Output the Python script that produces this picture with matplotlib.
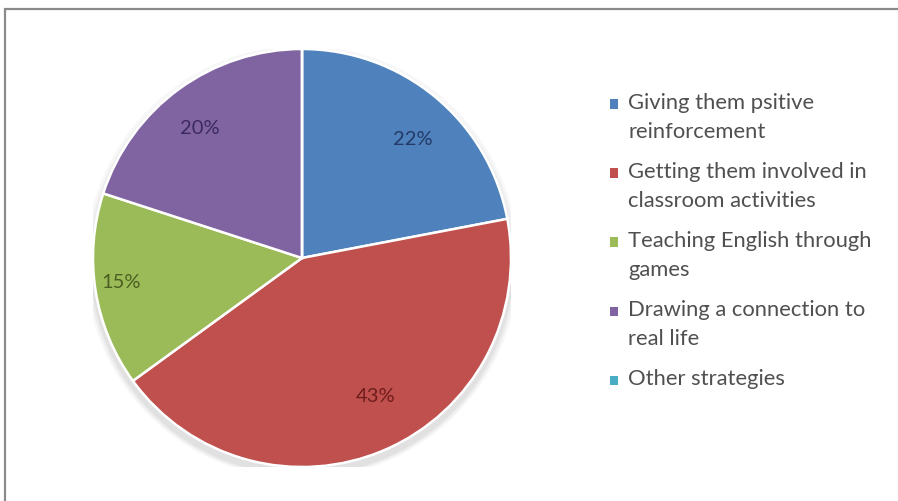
import matplotlib
matplotlib.use("Agg")
import matplotlib.pyplot as plt
from matplotlib.patches import Rectangle, Circle

plt.rcParams['font.family'] = ['Lato', 'DejaVu Sans']

# Survey answers: share of teachers using each strategy (percent)
categories = [
    "Giving them psitive\nreinforcement",
    "Getting them involved in\nclassroom activities",
    "Teaching English through\ngames",
    "Drawing a connection to\nreal life",
    "Other strategies",
]
values = [22, 43, 15, 20, 0]
colors = ["#4F81BD", "#C0504D", "#9BBB59", "#8064A2", "#4BACC6"]
label_colors = ["#233a66", "#6e1d1b", "#4b5f20", "#3b2a5e", "#1f5a68"]
# data-label anchor points (pie radius units), one per slice
label_pos = [(0.53, 0.565), (0.35, -0.665), (-0.866, -0.115), (-0.49, 0.62), (0.0, 0.0)]

W, H = 898, 501
fig = plt.figure(figsize=(W / 100, H / 100), dpi=100)
fig.patch.set_facecolor("white")

# outer chart frame (only the left and top edges fall inside the image)
fig.add_artist(Rectangle((4.5 / W, -0.05), 1.1, (501 - 8.5) / H + 0.05,
                         transform=fig.transFigure, fill=False,
                         edgecolor="#8a8a8a", linewidth=1.6))

cx, cy, r = 302, 258, 209
ax = fig.add_axes([(cx - r) / W, (H - cy - r) / H, 2 * r / W, 2 * r / H])


def pct_label(p):
    return f"{p:.0f}%" if p > 0.5 else ""


wedges, texts, autotexts = ax.pie(
    values, colors=colors, startangle=90, counterclock=False, radius=1.0,
    autopct=pct_label, pctdistance=0.79,
    wedgeprops=dict(edgecolor="white", linewidth=1.8),
    textprops=dict(fontsize=14.5),
)
for w in wedges:
    w.set_zorder(2)
for t, c, pos in zip(autotexts, label_colors, label_pos):
    t.set_zorder(3)
    t.set_color(c)
    t.set_position(pos)

ax.set_xlim(-1, 1)
ax.set_ylim(-1, 1)
ax.set_aspect("equal")
ax.axis("off")

# soft shadow beneath the pie
for i, a in enumerate([0.05, 0.07, 0.09]):
    ax.add_patch(Circle((0.0, -0.02 - 0.004 * i), 1.0 + 0.012 * (3 - i),
                        color="#707070", alpha=a, zorder=0, linewidth=0))

# legend: colour squares with wrapped labels
lx, ly0 = 610, 104
line_h = 29
gap = 11
y = ly0
for label, col in zip(categories, colors):
    fig.add_artist(Rectangle((lx / W, (H - y - 4.5) / H), 8 / W, 9 / H,
                             transform=fig.transFigure, facecolor=col,
                             edgecolor="none"))
    fig.text((lx + 18) / W, (H - y + 11) / H, label, fontsize=15.8, color="#505050",
             va="top", ha="left", linespacing=1.55)
    n = label.count("\n") + 1
    y += n * line_h + gap

fig.savefig("out.png", dpi=100, facecolor="white")
